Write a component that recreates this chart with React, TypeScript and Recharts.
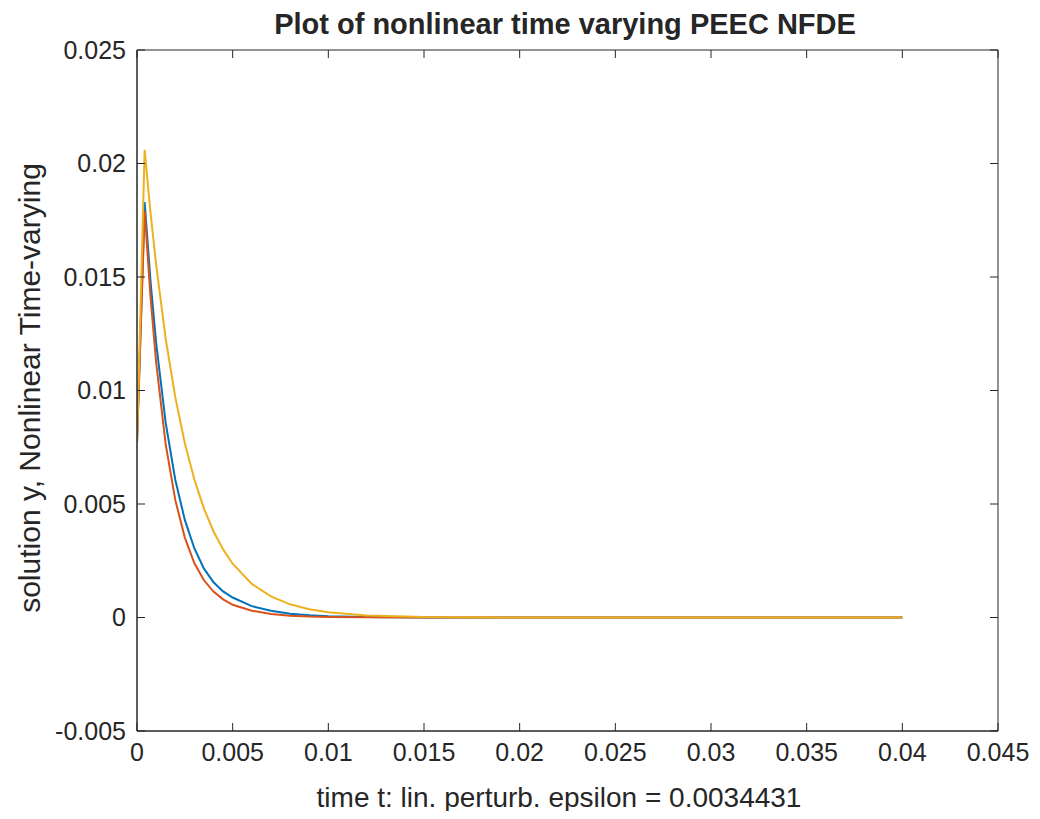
import { LineChart, Line, XAxis, YAxis } from "recharts"

// time samples (s)
const times = [
  0, 0.0004, 0.0007, 0.001, 0.0015, 0.002, 0.0025, 0.003, 0.0035, 0.004, 0.0045,
  0.005, 0.006, 0.007, 0.008, 0.009, 0.01, 0.012, 0.015, 0.02, 0.025, 0.03, 0.035, 0.04,
]

const blueSeries = [
  0.0077, 0.0183, 0.01488, 0.0121, 0.00857, 0.00607, 0.0043, 0.00304, 0.00215, 0.00155, 0.00115,
  0.00088, 0.0005, 0.0003, 0.00017, 0.0001, 0.00006, 0.00002, 0, 0, 0, 0, 0, 0,
]
const redSeries = [
  0.0077, 0.0179, 0.01419, 0.01124, 0.00763, 0.00518, 0.00352, 0.00239, 0.00164, 0.00114, 0.0008,
  0.00056, 0.0003, 0.00015, 0.00008, 0.00004, 0.00002, 0.00001, 0, 0, 0, 0, 0, 0,
]
const yellowSeries = [
  0.0077, 0.0206, 0.01789, 0.01554, 0.01228, 0.00971, 0.00768, 0.00607, 0.0048, 0.00379, 0.003,
  0.00237, 0.00148, 0.00093, 0.00058, 0.00036, 0.00023, 0.00009, 0.00002, 0, 0, 0, 0, 0,
]

const xTicks = [0, 0.005, 0.01, 0.015, 0.02, 0.025, 0.03, 0.035, 0.04, 0.045]
const yTicks = [-0.005, 0, 0.005, 0.01, 0.015, 0.02, 0.025]

const data = times.map((t, i) => ({
  t,
  blue: blueSeries[i],
  red: redSeries[i],
  yellow: yellowSeries[i],
}))

const font = "'Liberation Sans', Arial, Helvetica, sans-serif"
const ink = "#262626"
const tickStyle = { fontSize: 25, fill: ink, fontFamily: font }
const xDomain = [0, 0.045]
const yDomain = [-0.005, 0.025]
const noLabel = () => <g />

export default function App() {
  return (
    <div style={{ position: "relative", width: 1032, height: 803, fontFamily: font, color: ink }}>
      <div style={{
        position: "absolute", left: 557, top: 0, transform: "translateX(-50%)",
        whiteSpace: "nowrap", fontSize: 29, fontWeight: "bold",
      }}>
        Plot of nonlinear time varying PEEC NFDE
      </div>
      <div style={{ position: "absolute", left: 22, top: 380, width: 0, height: 0 }}>
        <div style={{
          position: "absolute", transform: "translate(-50%, -50%) rotate(-90deg)",
          whiteSpace: "nowrap", fontSize: 30,
        }}>
          solution y, Nonlinear Time-varying
        </div>
      </div>
      <div style={{
        position: "absolute", left: 551, top: 774, transform: "translateX(-50%)",
        whiteSpace: "nowrap", fontSize: 28,
      }}>
        time t: lin. perturb. epsilon = 0.0034431
      </div>
      <LineChart width={1032} height={803} data={data}
                 margin={{ top: 42, right: 42, left: 69, bottom: 40 }}
                 style={{ position: "absolute", left: 0, top: 0 }}>
        {/* labelled axes */}
        <XAxis dataKey="t" type="number" domain={xDomain} ticks={xTicks}
               allowDataOverflow height={40} tickSize={0} tickMargin={12}
               stroke={ink} tick={tickStyle} interval={0} />
        <YAxis type="number" domain={yDomain} ticks={yTicks}
               allowDataOverflow width={60} tickSize={0} tickMargin={11}
               stroke={ink} tick={tickStyle} interval={0} />
        {/* box with inward ticks */}
        <XAxis xAxisId="bm" mirror dataKey="t" type="number" domain={xDomain}
               ticks={xTicks} allowDataOverflow tickSize={8} tick={noLabel}
               tickLine={{ stroke: ink }} stroke={ink} interval={0} />
        <XAxis xAxisId="top" orientation="top" mirror dataKey="t" type="number"
               domain={xDomain} ticks={xTicks} allowDataOverflow tickSize={8}
               tick={noLabel} tickLine={{ stroke: ink }} stroke={ink} interval={0} />
        <YAxis yAxisId="lm" mirror type="number" domain={yDomain} ticks={yTicks}
               allowDataOverflow tickSize={8} tick={noLabel}
               tickLine={{ stroke: ink }} stroke={ink} interval={0} />
        <YAxis yAxisId="right" orientation="right" mirror type="number"
               domain={yDomain} ticks={yTicks} allowDataOverflow tickSize={8}
               tick={noLabel} tickLine={{ stroke: ink }} stroke={ink} interval={0} />
        <Line dataKey="blue" stroke="#0072BD" strokeWidth={2} dot={false}
              isAnimationActive={false} type="linear" />
        <Line dataKey="red" stroke="#D95319" strokeWidth={2} dot={false}
              isAnimationActive={false} type="linear" />
        <Line dataKey="yellow" stroke="#EDB120" strokeWidth={2} dot={false}
              isAnimationActive={false} type="linear" />
      </LineChart>
    </div>
  )
}
